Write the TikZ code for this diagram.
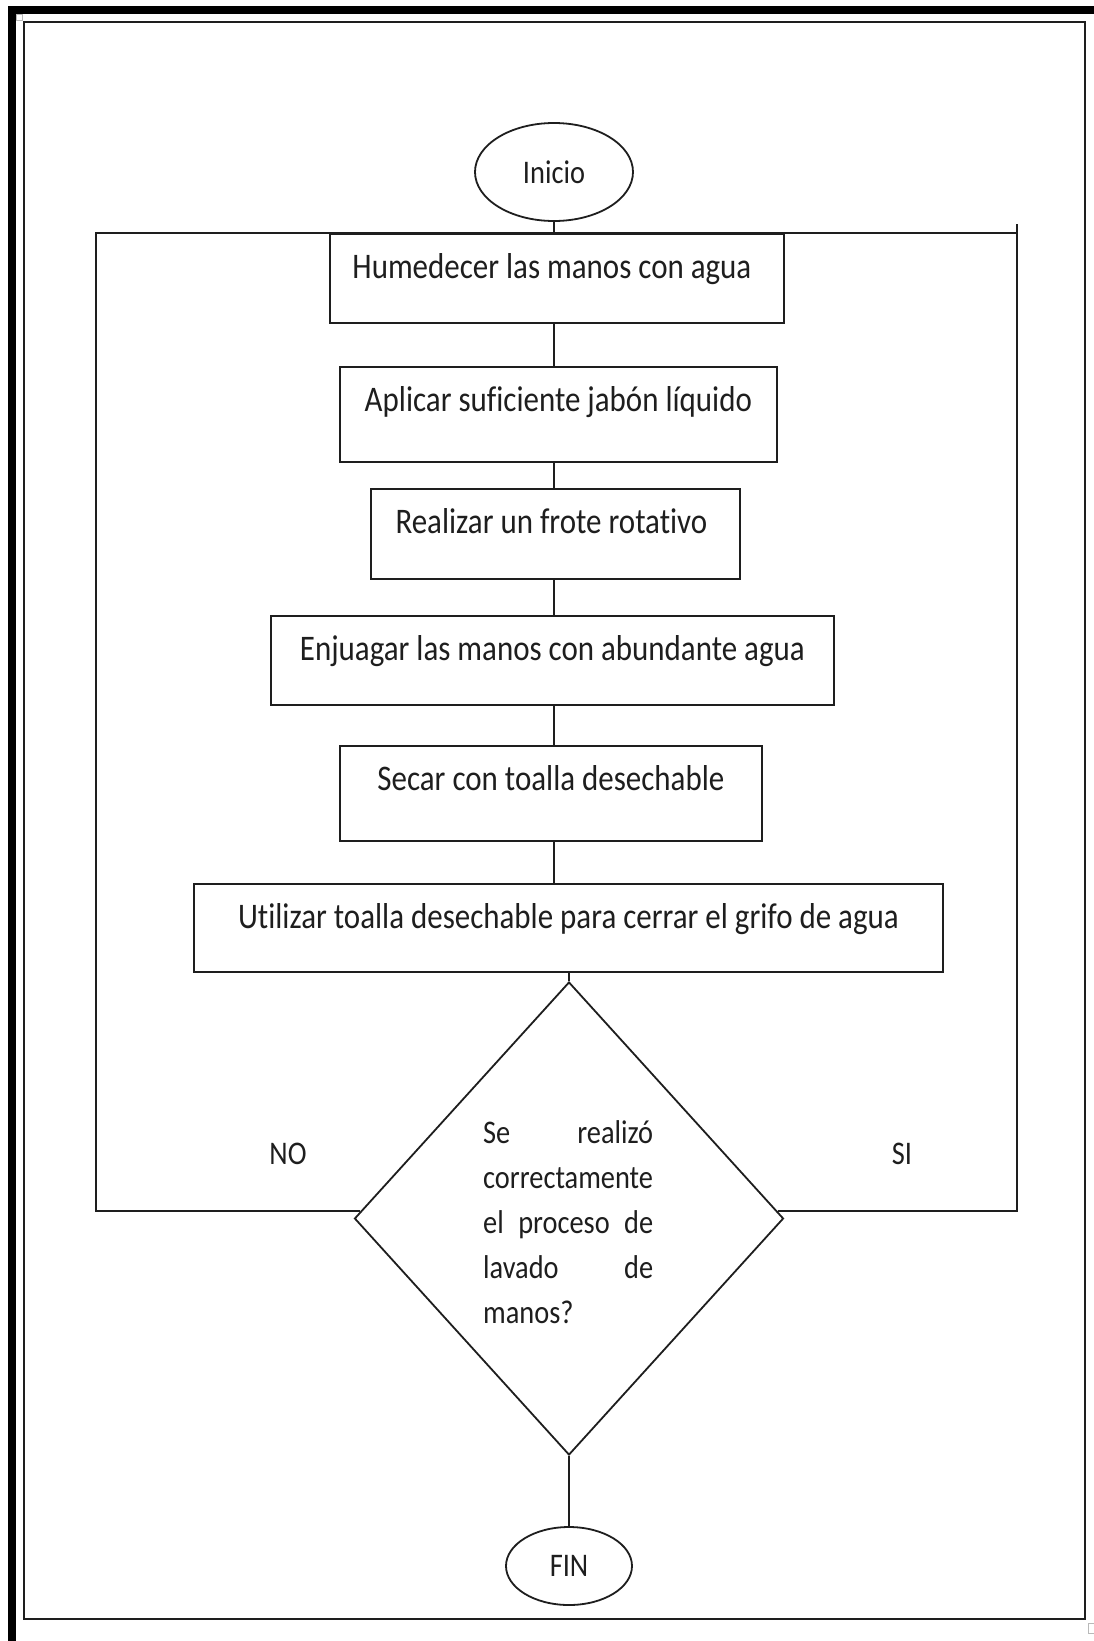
\documentclass[tikz,border=0pt]{standalone}
\usepackage{fontspec}
\setmainfont{Carlito}[FakeStretch=0.86, Ligatures={NoCommon}, Contextuals={NoAlternate}]
\usetikzlibrary{shapes.geometric}
\definecolor{ink}{HTML}{1E1E1E}
\begin{document}
\begin{tikzpicture}[x=1pt,y=-1pt,
  line/.style={line width=1.8pt, draw=ink},
  boxfont/.style={font=\fontsize{36}{43}\selectfont, text=ink},
  smallfont/.style={font=\fontsize{33}{45}\selectfont, text=ink},
  stepbox/.style={line, rectangle, anchor=north west, inner sep=0pt,
                  text height=45pt, boxfont},
  terminal/.style={line, ellipse, inner sep=0pt, smallfont},
  decision/.style={line, diamond, inner sep=0pt}]
\useasboundingbox (0,0) rectangle (1094,1641);
\fill[white] (0,0) rectangle (1094,1641);

% page frame
\draw[line width=8pt, line join=miter] (12,1650) -- (12,10) -- (1100,10);
\draw[line width=2pt, draw=ink] (24,22) rectangle (1085,1619);
\draw[gray!55, line width=1pt] (16,14) rectangle (22,20);
\draw[gray!55, line width=1pt] (1088,1623) rectangle (1098,1633);

% start
\node[terminal, minimum width=158pt, minimum height=98pt] (ini) at (554,172) {Inicio};

% steps
\node[stepbox, minimum width=454pt, text depth=44pt] (hum) at (329,233) {Humedecer las manos con agua\hspace*{10pt}};
\node[stepbox, minimum width=437pt, text depth=50pt] (apl) at (339,366) {Aplicar suficiente jabón líquido};
\node[stepbox, minimum width=369pt, text depth=45pt] (rea) at (370,488) {Realizar un frote rotativo\hspace*{8pt}};
\node[stepbox, minimum width=563pt, text depth=44pt] (enj) at (270,615) {Enjuagar las manos con abundante agua};
\node[stepbox, minimum width=422pt, text depth=50pt] (sec) at (339,745) {Secar con toalla desechable};
\node[stepbox, minimum width=749pt, text depth=43pt] (uti) at (193,883) {Utilizar toalla desechable para cerrar el grifo de agua};

% decision
\node[decision, minimum width=429pt, minimum height=473pt] (dec) at (569,1218.5) {};
\node[smallfont, anchor=base west, inner sep=0pt] (q) at (483,1143)
  {\parbox[t]{170pt}{\fontsize{33}{45}\selectfont
   \makebox[170pt][s]{Se realizó}\par
   \makebox[170pt][s]{correctamente}\par
   \makebox[170pt][s]{el proceso de}\par
   \makebox[170pt][s]{lavado de}\par
   \makebox[170pt][l]{manos?}}};

% end
\node[terminal, minimum width=126pt, minimum height=78pt] (fin) at (569,1566) {FIN};

% branch labels
\node[smallfont, anchor=base, inner sep=0pt] (no) at (288,1164) {NO};
\node[smallfont, anchor=base, inner sep=0pt] (si) at (902,1164) {SI};

% loop frame corners
\coordinate (lt) at (96,233);
\coordinate (rt) at (1017,233);
\coordinate (rtop) at (1017,224);

% connectors
\draw[line] (ini.south) -- (ini.south |- hum.north);
\draw[line] (hum.south -| ini) -- (apl.north -| ini);
\draw[line] (apl.south -| ini) -- (rea.north -| ini);
\draw[line] (rea.south -| ini) -- (enj.north -| ini);
\draw[line] (enj.south -| ini) -- (sec.north -| ini);
\draw[line] (sec.south -| ini) -- (uti.north -| ini);
\draw[line] (uti.south -| dec) -- (dec.north);
\draw[line] (dec.south) -- (fin.north);
\draw[line] (dec.178) -- (dec.178 -| lt) -- (lt) -- (rt);
\draw[line] (dec.2) -- (dec.2 -| rtop) -- (rtop);
\end{tikzpicture}
\end{document}
